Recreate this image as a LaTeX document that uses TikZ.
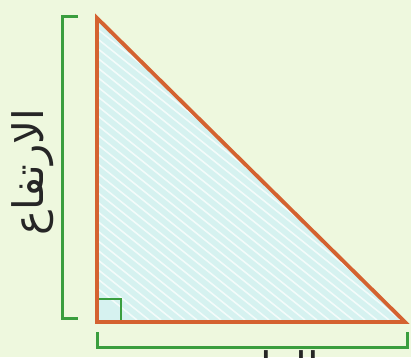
\documentclass[tikz,border=0pt]{standalone}
\usepackage{fontspec}
\newfontfamily\arabicfont[Script=Arabic]{DejaVu Sans}
\TeXXeTstate=1
\definecolor{bgc}{RGB}{238,248,222}
\definecolor{fillc}{RGB}{214,242,240}
\definecolor{edgec}{RGB}{212,98,48}
\definecolor{brc}{RGB}{58,158,62}
\tikzset{
  edge/.style={draw=edgec,line width=3.8pt,line join=miter},
  bracket/.style={draw=brc,line width=3pt},
  lbl/.style={font=\arabicfont\fontsize{42}{48}\selectfont,text=black!85}
}
\begin{document}
\begin{tikzpicture}[x=1pt,y=-1pt]
\fill[bgc] (0,0) rectangle (411,357);
\useasboundingbox (0,0) rectangle (411,357);
\coordinate (A) at (97,18);
\coordinate (B) at (97,322);
\coordinate (C) at (405,322);
\fill[fillc] (A) -- (B) -- (C) -- cycle;
\begin{scope}
\clip (A) -- (B) -- (C) -- cycle;
\foreach \i in {-30,...,30} {
  \draw[white!70!fillc,line width=1.6pt] (97+\i*12,0) -- ++(400,320);
}
\end{scope}
% right angle marker
\coordinate (S1) at (97,299);
\coordinate (S2) at (121,299);
\coordinate (S3) at (121,322);
\draw[bracket,line width=2.5pt] (S1) -- (S2) -- (S3);
\draw[edge] (A) -- (B) -- (C) -- cycle;
% brackets
\coordinate (L1) at (78,16);
\coordinate (L2) at (62,16);
\coordinate (L3) at (62,318);
\coordinate (L4) at (78,318);
\draw[bracket] (L1) -- (L2) -- (L3) -- (L4);
\coordinate (D1) at (97,332);
\coordinate (D2) at (97,347);
\coordinate (D3) at (407,347);
\coordinate (D4) at (407,332);
\draw[bracket] (D1) -- (D2) -- (D3) -- (D4);
\node[lbl,rotate=90] (h) at (33,172) {\beginR الارتفاع\endR};
\node[lbl,anchor=base] (b) at (255,382) {\beginR القاعدة\endR};
\end{tikzpicture}
\end{document}
